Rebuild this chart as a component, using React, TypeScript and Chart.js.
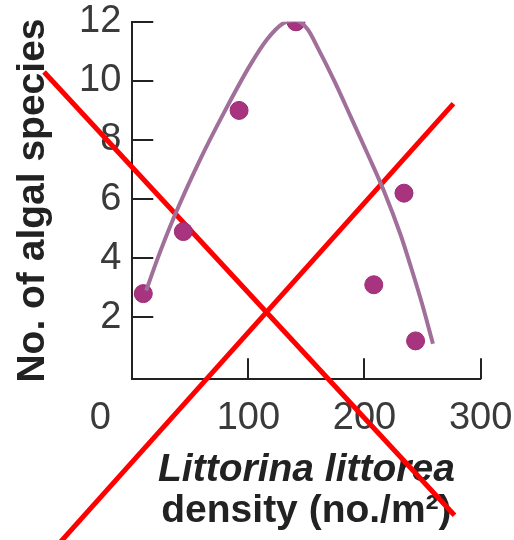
import React, { useEffect, useRef } from 'react';
import { Chart, registerables } from 'chart.js';

Chart.register(...registerables);

// ---- data ----
const xTickValues = [0, 100, 200, 300];
const yTickValues = [2, 4, 6, 8, 10, 12];

const densityObserved = [9.5, 44, 92, 141, 208, 234, 244];
const speciesObserved = [2.8, 4.9, 9.0, 12.0, 3.1, 6.2, 1.2];

const curveDensity = [12, 21, 35, 58, 80, 101, 116, 130, 140, 151, 160, 174, 188, 203, 217, 231, 240, 250, 259];
const curveSpecies = [2.9, 3.9, 5.3, 7.3, 9.0, 10.5, 11.4, 11.95, 12.05, 11.75, 11.1, 10.0, 8.8, 7.5, 6.25, 4.8, 3.7, 2.4, 1.1];

// red cross-out strokes (in data units)
const crossADensity = [-76, 277.5];
const crossASpecies = [10.3, -4.7];
const crossBDensity = [276.6, -63.3];
const crossBSpecies = [9.23, -5.67];

const yTitle = 'No. of algal species';
const xTitleLine1 = 'Littorina littorea';
const xTitleLine2 = 'density (no./m²)';

const FONT = "'Liberation Sans', Arial, Helvetica, sans-serif";
const TICK_COLOR = '#3a3a3a';
const AXIS_COLOR = '#222';

const zip = (xs: number[], ys: number[]) => xs.map((x, i) => ({ x, y: ys[i] }));

const axisDecor = {
  id: 'axisDecor',
  beforeDatasetsDraw(chart: any) {
    const { ctx } = chart;
    const x = chart.scales.x;
    const y = chart.scales.y;
    ctx.save();
    ctx.strokeStyle = AXIS_COLOR;
    ctx.lineWidth = 2;
    ctx.beginPath();
    y.ticks.forEach((t: any) => {
      const py = Math.round(y.getPixelForValue(t.value));
      ctx.moveTo(x.left, py);
      ctx.lineTo(x.left + 21, py);
    });
    x.ticks.forEach((t: any) => {
      if (t.value === 0) return;
      const px = Math.round(x.getPixelForValue(t.value));
      ctx.moveTo(px, y.bottom);
      ctx.lineTo(px, y.bottom - 21);
    });
    ctx.stroke();
    // origin label placed at the lower-left corner
    const items = x.getLabelItems();
    const zero = items.find((it: any) => it.label === '0');
    if (zero) {
      ctx.font = zero.font.string;
      ctx.fillStyle = TICK_COLOR;
      ctx.textAlign = 'center';
      ctx.textBaseline = zero.options.textBaseline;
      ctx.fillText('0', x.left - 32, zero.options.translation[1] + zero.textOffset);
    }
    ctx.restore();
  },
};

export default function App() {
  const ref = useRef<HTMLCanvasElement | null>(null);

  useEffect(() => {
    if (!ref.current) return;
    const chart = new Chart(ref.current, {
      type: 'scatter',
      data: {
        datasets: [
          {
            type: 'line',
            data: zip(curveDensity, curveSpecies),
            borderColor: '#a0709a',
            borderWidth: 4,
            pointRadius: 0,
            cubicInterpolationMode: 'monotone',
            fill: false,
          } as any,
          {
            type: 'scatter',
            data: zip(densityObserved, speciesObserved),
            backgroundColor: '#a8337f',
            borderColor: '#9a2c75',
            borderWidth: 1,
            pointRadius: 9,
          },
          {
            type: 'line',
            data: zip(crossADensity, crossASpecies),
            borderColor: '#ff0000',
            borderWidth: 5,
            pointRadius: 0,
            clip: false,
          } as any,
          {
            type: 'line',
            data: zip(crossBDensity, crossBSpecies),
            borderColor: '#ff0000',
            borderWidth: 5,
            pointRadius: 0,
            clip: false,
          } as any,
        ],
      },
      options: {
        responsive: false,
        animation: false,
        layout: { padding: 0 },
        plugins: {
          legend: { display: false },
          tooltip: { enabled: false },
          title: {
            display: true,
            position: 'bottom',
            fullSize: false,
            text: xTitleLine2,
            color: AXIS_COLOR,
            font: { family: FONT, size: 39, weight: 'bold', lineHeight: 1 },
            padding: { top: 2, bottom: 9 },
          },
        },
        scales: {
          x: {
            type: 'linear',
            min: 0,
            max: 300,
            afterBuildTicks: (s: any) => {
              s.ticks = xTickValues.map((v) => ({ value: v }));
            },
            ticks: {
              padding: 16.7,
              maxRotation: 0,
              autoSkip: false,
              color: (c: any) => (c.tick && c.tick.value === 0 ? 'rgba(0,0,0,0)' : TICK_COLOR),
              font: { family: FONT, size: 38 },
              callback: (v: any) => String(v),
            },
            grid: { drawOnChartArea: false, drawTicks: false },
            border: { display: true, color: AXIS_COLOR, width: 2 },
            title: {
              display: true,
              text: xTitleLine1,
              color: AXIS_COLOR,
              font: { family: FONT, size: 39, weight: 'bold', style: 'italic', lineHeight: 1 },
              padding: { top: -7.3, bottom: 0 },
            },
          },
          y: {
            type: 'linear',
            min: -0.1,
            max: 12,
            afterBuildTicks: (s: any) => {
              s.ticks = yTickValues.map((v) => ({ value: v }));
            },
            ticks: {
              padding: 11,
              autoSkip: false,
              color: TICK_COLOR,
              font: { family: FONT, size: 38 },
              callback: (v: any) => String(v),
            },
            grid: { drawOnChartArea: false, drawTicks: false },
            border: { display: true, color: AXIS_COLOR, width: 2 },
            title: {
              display: true,
              text: yTitle,
              color: AXIS_COLOR,
              font: { family: FONT, size: 39, weight: 'bold', lineHeight: 1 },
              padding: { top: 14, bottom: 15 },
            },
          },
        },
      },
      plugins: [axisDecor],
    } as any);
    return () => chart.destroy();
  }, []);

  return (
    <div style={{ position: 'fixed', left: 0, top: 0, width: 514, height: 540, overflow: 'hidden', background: '#fff' }}>
      <canvas ref={ref} width={529} height={552} style={{ position: 'absolute', left: 0, top: -12 }} />
    </div>
  );
}
